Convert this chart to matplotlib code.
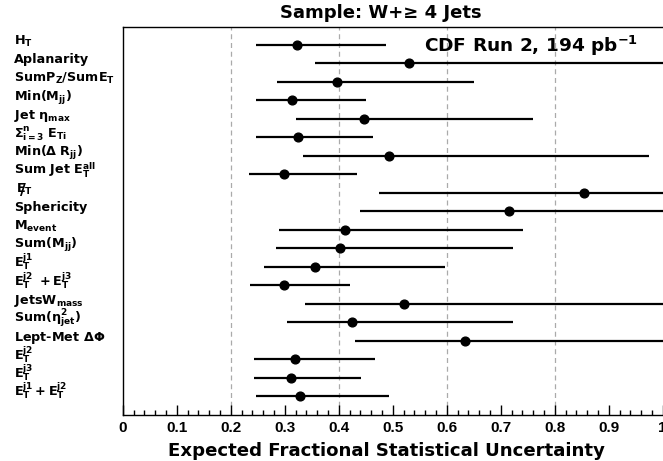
import matplotlib
matplotlib.use('Agg')
import matplotlib.pyplot as plt
from matplotlib.ticker import MultipleLocator

plt.rcParams['font.family'] = 'DejaVu Sans'
plt.rcParams['mathtext.default'] = 'bf'

labels = [r'$H_T$', 'Aplanarity', r'$SumP_Z/SumE_T$', r'$Min(M_{jj})$',
          r'Jet $\eta_{max}$', r'$\Sigma^n_{i=3}\ E_{Ti}$', r'$Min(\Delta\ R_{jj})$',
          r'Sum Jet $E_T^{all}$', r'$E_T$', 'Sphericity', r'$M_{event}$',
          r'$Sum(M_{jj})$', r'$E_T^{j1}$', r'$E_T^{j2}\ +E_T^{j3}$', r'$JetsW_{mass}$',
          r'$Sum(\eta^2_{jet})$', r'Lept-Met $\Delta\Phi$', r'$E_T^{j2}$',
          r'$E_T^{j3}$', r'$E_T^{j1}+E_T^{j2}$']
centers = [0.323, 0.531, 0.397, 0.313, 0.447, 0.324, 0.494, 0.299, 0.855, 0.715,
           0.412, 0.402, 0.356, 0.299, 0.520, 0.425, 0.634, 0.319, 0.312, 0.328]
lows = [0.246, 0.357, 0.286, 0.247, 0.321, 0.246, 0.334, 0.233, 0.475, 0.440,
        0.289, 0.283, 0.262, 0.236, 0.338, 0.305, 0.430, 0.243, 0.243, 0.246]
highs = [0.487, 1.10, 0.651, 0.451, 0.760, 0.463, 0.975, 0.433, 1.40, 1.15,
         0.742, 0.722, 0.596, 0.421, 1.05, 0.722, 1.10, 0.467, 0.441, 0.494]

W, H = 663, 461
fig = plt.figure(figsize=(W / 100, H / 100), dpi=100)
ax = fig.add_axes([122.7 / W, 46 / H, 540 / W, 388 / H])

rows = list(range(1, len(labels) + 1))
xerr = [[c - lo for c, lo in zip(centers, lows)], [hi - c for c, hi in zip(centers, highs)]]
ax.errorbar(centers, rows, xerr=xerr, fmt='o', color='black', ms=6.3,
            elinewidth=1.6, capsize=0, zorder=3)

for g in [0.2, 0.4, 0.6, 0.8]:
    ax.axvline(g, color='#aaaaaa', ls=(0, (4, 3)), lw=0.9, zorder=1)

ax.set_xlim(0, 1)
ax.set_ylim(21.03, 0.025)
ax.set_yticks([])
ax.spines['right'].set_visible(False)
for s in ['left', 'top', 'bottom']:
    ax.spines[s].set_linewidth(1.0)

ax.xaxis.set_major_locator(MultipleLocator(0.1))
ax.xaxis.set_minor_locator(MultipleLocator(0.02))
ax.tick_params(axis='x', which='major', direction='in', length=7, width=1, pad=4)
ax.tick_params(axis='x', which='minor', direction='in', length=3.6, width=1)
ax.set_xticks([0, 0.1, 0.2, 0.3, 0.4, 0.5, 0.6, 0.7, 0.8, 0.9, 1.0])
ax.set_xticklabels(['0', '0.1', '0.2', '0.3', '0.4', '0.5', '0.6', '0.7', '0.8', '0.9', '1'],
                   fontsize=11, fontweight='bold', family='Liberation Sans')

# row labels on the left
tr = ax.get_yaxis_transform()
for i, (lab, r) in enumerate(zip(labels, rows)):
    x0 = (14 - 122.7) / 540
    if i == 8:
        x0 = (16 - 122.7) / 540
        # slash through the E for missing ET
        ax.text((22.5 - 122.7) / 540, r + 0.12, '/', transform=tr, ha='center',
                va='baseline', fontsize=11.5, fontweight='bold', clip_on=False)
    ax.text(x0, r, lab, transform=tr, ha='left', va='baseline',
            fontsize=9.2, fontweight='bold', clip_on=False)

fig.text(381 / W, 1 - 18.3 / H, 'Sample: W+≥ 4 Jets', ha='center', va='baseline',
         fontsize=13, fontweight='bold')
fig.text(424 / W, 1 - 51.7 / H, r'CDF Run 2, 194 pb$^{-1}$', ha='left', va='baseline',
         fontsize=13.3, fontweight='bold')
fig.text(386 / W, 1 - 450.8 / H, 'Expected Fractional Statistical Uncertainty',
         ha='center', va='center', fontsize=13.1, fontweight='bold')

fig.savefig('out.png', dpi=100)
